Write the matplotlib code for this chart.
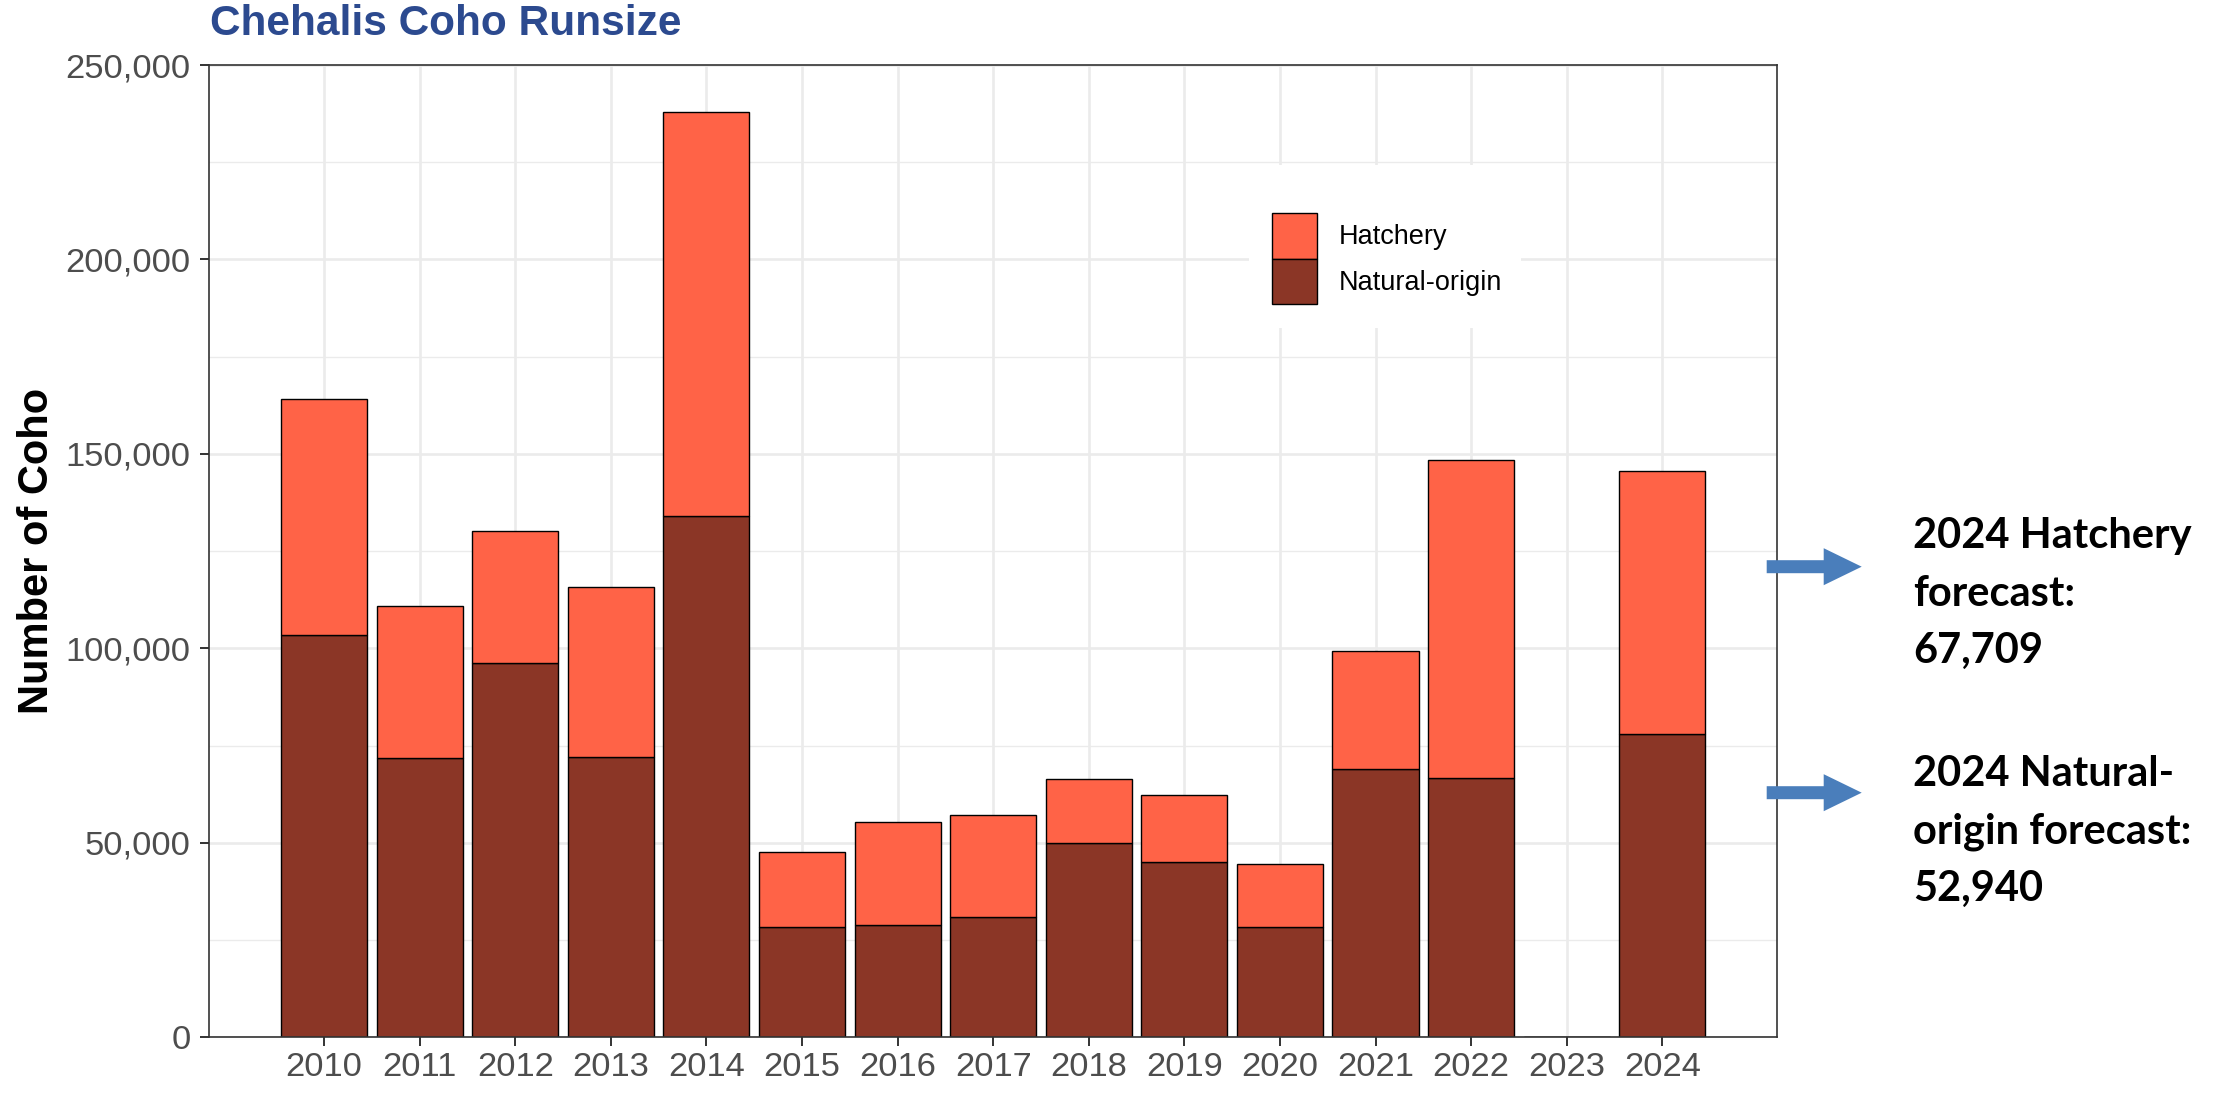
import matplotlib
matplotlib.use("Agg")
import matplotlib.pyplot as plt
from matplotlib.patches import Patch, Rectangle, FancyArrow
from matplotlib.ticker import FuncFormatter, MultipleLocator

plt.rcParams["font.family"] = ["Liberation Sans", "DejaVu Sans"]

years = [2010, 2011, 2012, 2013, 2014, 2015, 2016, 2017,
         2018, 2019, 2020, 2021, 2022, 2023, 2024]
natural = [103400, 71800, 96200, 72100, 134000, 28300, 28800, 30900,
           50000, 45100, 28300, 68900, 66600, 0, 77900]
hatchery = [60700, 39200, 34000, 43800, 103800, 19300, 26500, 26300,
            16500, 17100, 16200, 30500, 81800, 0, 67709]

legend_labels = ["Hatchery", "Natural-origin"]
note_hatchery = ["2024 Hatchery", "forecast:", "67,709"]
note_natural = ["2024 Natural-", "origin forecast:", "52,940"]

col_hat = "#FF6347"
col_nat = "#8B3626"
col_arrow = "#4A7EBB"

W, H = 2215, 1096
fig = plt.figure(figsize=(W / 100, H / 100), dpi=100)
ax = fig.add_axes([209.3 / W, 1 - 1037.3 / H, (1777 - 209.3) / W, (1037.3 - 65) / H])

# stacked bars: natural at the bottom, hatchery on top
ax.bar(years, natural, width=0.9, color=col_nat, edgecolor="black", linewidth=1.0, zorder=2)
ax.bar(years, hatchery, width=0.9, bottom=natural, color=col_hat, edgecolor="black",
       linewidth=1.0, zorder=2)

ax.set_xlim(2008.8, 2025.2)
ax.set_ylim(0, 250000)
ax.set_xticks(years)
ax.set_xticklabels([str(y) for y in years])
ax.yaxis.set_major_locator(MultipleLocator(50000))
ax.yaxis.set_minor_locator(MultipleLocator(25000))
ax.yaxis.set_major_formatter(FuncFormatter(lambda v, p: "{:,.0f}".format(v)))

ax.set_axisbelow(True)
ax.grid(True, which="major", color="#EBEBEB", linewidth=1.9)
ax.grid(True, which="minor", axis="y", color="#EBEBEB", linewidth=1.0)
for s in ax.spines.values():
    s.set_color("#333333")
    s.set_linewidth(1.2)
ax.tick_params(axis="both", which="major", length=6.5, width=1.4, color="#333333",
               labelsize=24.8, labelcolor="#4D4D4D")
ax.tick_params(axis="x", pad=4)
ax.tick_params(axis="y", pad=7)
ax.tick_params(which="minor", length=0)

ax.set_ylabel("Number of Coho", fontsize=30, fontweight="bold", color="black")
ax.yaxis.set_label_coords(-0.0971, 0.5)

fig.text(210 / W, 1 - 35 / H, "Chehalis Coho Runsize", fontsize=30.5, fontweight="bold",
         color="#2C4A8F", ha="left", va="baseline")

# legend with white background patch
ax.add_patch(Rectangle((0.663, 0.7295), 0.174, 0.1675, transform=ax.transAxes,
                       facecolor="white", edgecolor="none", zorder=1))
handles = [Patch(facecolor=col_hat, edgecolor="black", linewidth=1.0),
           Patch(facecolor=col_nat, edgecolor="black", linewidth=1.0)]
ax.legend(handles, legend_labels, loc="upper left", bbox_to_anchor=(0.6777, 0.8475),
          frameon=False, fontsize=19.5, borderpad=0, borderaxespad=0,
          handlelength=1.67, handleheight=2.2, handletextpad=0.8, labelspacing=0.0)

# arrows and forecast notes on the right
for yc in [566.7, 792.7]:
    fig.add_artist(FancyArrow(1766.7 / W, 1 - yc / H, 95 / W, 0, width=13 / H,
                              head_width=37 / H, head_length=38 / W,
                              length_includes_head=True, transform=fig.transFigure,
                              color=col_arrow, linewidth=0))

for lines, base in [(note_hatchery, 548.3), (note_natural, 786.0)]:
    for i, t in enumerate(lines):
        fig.text(1913 / W, 1 - (base + i * 57.3) / H, t, fontsize=30, fontweight="bold",
                 family=["Lato", "DejaVu Sans"], color="black", ha="left", va="baseline")

fig.savefig("out.png", dpi=100)
